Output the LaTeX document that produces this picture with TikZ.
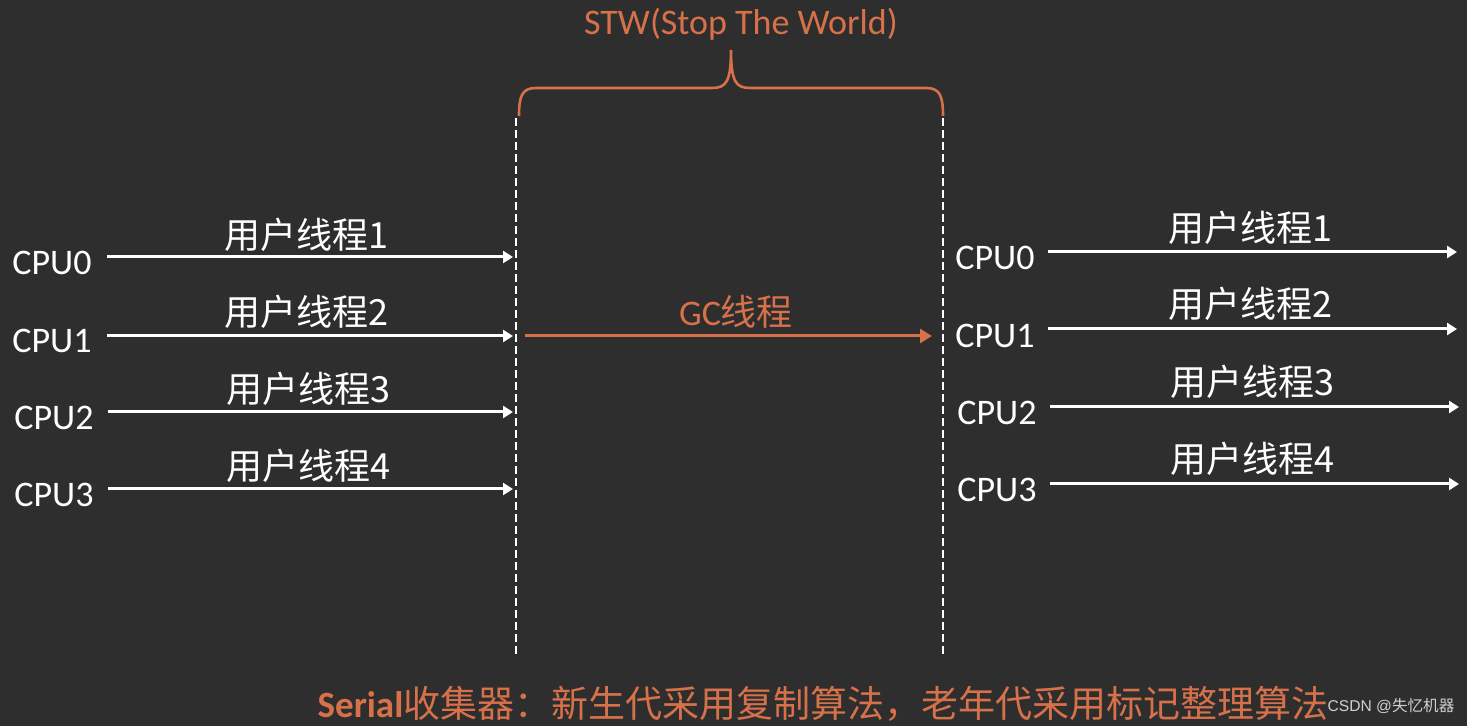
\documentclass[tikz,border=0pt]{standalone}
\usepackage{fontspec}
\setmainfont{Carlito}
\newfontfamily\cjk{Noto Sans CJK SC}
\newfontfamily\wmfont{Liberation Sans}
\usetikzlibrary{arrows.meta}
\definecolor{bg}{HTML}{2E2E2E}
\definecolor{org}{HTML}{D7714A}
\definecolor{wm}{HTML}{D0D0D0}
\begin{document}
\begin{tikzpicture}[x=0.5pt,y=-0.5pt,
  lbl/.style={text=white,font=\fontsize{18pt}{20pt}\selectfont,inner sep=0pt,anchor=center},
  olbl/.style={text=org,font=\fontsize{18pt}{20pt}\selectfont,inner sep=0pt,anchor=center},
  warr/.style={draw=white,line width=1.5pt,-{Triangle[length=5pt,width=6pt]}},
  oarr/.style={draw=org,line width=1.5pt,-{Triangle[length=6pt,width=7pt]}},
  vdash/.style={draw=white,line width=1.2pt,dash pattern=on 4pt off 2pt}]
\fill[bg] (0,0) rectangle (1467,726);
\useasboundingbox (0,0) rectangle (1467,726);

% dashed lines
\coordinate (dl1) at (516,118);
\coordinate (dl2) at (516,657);
\coordinate (dr1) at (943,118);
\coordinate (dr2) at (943,657);
\draw[vdash] (dl1) -- (dl2);
\draw[vdash] (dr1) -- (dr2);

% brace
\coordinate (bl) at (519,116);
\coordinate (br) at (943,116);
\coordinate (bt) at (731,50);
\draw[org,line width=1.3pt] (bl) .. controls (519,96) and (522,88) .. (536,88)
  -- (712,88) .. controls (726,88) and (731,82) .. (bt)
  .. controls (731,82) and (736,88) .. (750,88)
  -- (926,88) .. controls (940,88) and (943,96) .. (br);
\node[olbl] (stw) at (741,24) {STW(Stop The World)};

% left side
\node[lbl] (l0) at (52,263) {CPU0};
\node[lbl] (l1) at (52,341) {CPU1};
\node[lbl] (l2) at (54,418) {CPU2};
\node[lbl] (l3) at (54,495) {CPU3};
\coordinate (ls0) at (107,257); \coordinate (le0) at (513,257);
\coordinate (ls1) at (107,336); \coordinate (le1) at (513,336);
\coordinate (ls2) at (108,412); \coordinate (le2) at (513,412);
\coordinate (ls3) at (108,489); \coordinate (le3) at (513,489);
\draw[warr] (ls0) -- (le0);
\draw[warr] (ls1) -- (le1);
\draw[warr] (ls2) -- (le2);
\draw[warr] (ls3) -- (le3);
\node[lbl] (lt0) at (306,235) {\cjk 用户线程1};
\node[lbl] (lt1) at (306,312) {\cjk 用户线程2};
\node[lbl] (lt2) at (308,389) {\cjk 用户线程3};
\node[lbl] (lt3) at (308,466) {\cjk 用户线程4};

% GC
\coordinate (gs) at (525,336);
\coordinate (ge) at (932,336);
\draw[oarr] (gs) -- (ge);
\node[olbl] (gc) at (736,312) {GC\cjk 线程};

% right side
\node[lbl] (r0) at (995,258) {CPU0};
\node[lbl] (r1) at (995,336) {CPU1};
\node[lbl] (r2) at (997,413) {CPU2};
\node[lbl] (r3) at (997,490) {CPU3};
\coordinate (rs0) at (1048,252); \coordinate (re0) at (1457,252);
\coordinate (rs1) at (1048,329); \coordinate (re1) at (1457,329);
\coordinate (rs2) at (1050,407); \coordinate (re2) at (1459,407);
\coordinate (rs3) at (1050,484); \coordinate (re3) at (1459,484);
\draw[warr] (rs0) -- (re0);
\draw[warr] (rs1) -- (re1);
\draw[warr] (rs2) -- (re2);
\draw[warr] (rs3) -- (re3);
\node[lbl] (rt0) at (1250,228) {\cjk 用户线程1};
\node[lbl] (rt1) at (1250,304) {\cjk 用户线程2};
\node[lbl] (rt2) at (1252,382) {\cjk 用户线程3};
\node[lbl] (rt3) at (1252,459) {\cjk 用户线程4};

% bottom caption
\node[olbl,font=\fontsize{18.5pt}{20pt}\selectfont] (cap) at (823,704) {\textbf{Serial}\cjk 收集器：新生代采用复制算法，老年代采用标记整理算法};
\node[text=wm,font=\fontsize{7.8pt}{9pt}\selectfont,inner sep=0pt] (wmk) at (1391,706) {\wmfont CSDN @\cjk 失忆机器};
\end{tikzpicture}
\end{document}
